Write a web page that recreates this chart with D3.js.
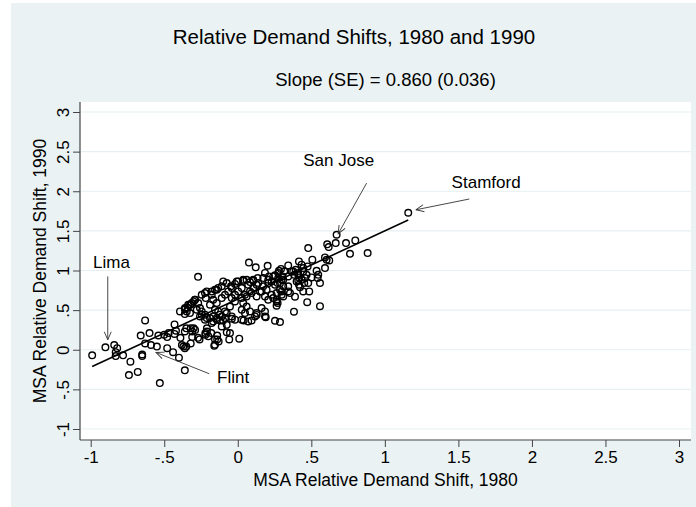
<!DOCTYPE html>
<meta charset="utf-8">
<style>
body { margin: 0; background: #fff; }
svg { font-family: Arial, "Liberation Sans", sans-serif; display: block; }
.dot { fill: none; stroke: #000; stroke-width: 1.4px; }
.grid { stroke: #e6eff1; stroke-width: 1.2px; }
.frame { stroke: #444; stroke-width: 1.2px; }
.fit { stroke: #000; stroke-width: 1.6px; }
.arrow { stroke: #333; stroke-width: 0.9px; fill: none; }
</style>
<svg width="696" height="507"></svg>
<script src="https://d3js.org/d3.v7.min.js"></script>
<script>

// MSA relative demand shifts
var shift1980 = [
  -0.99,-0.90,-0.84,-0.82,-0.83,-0.83,-0.78,-0.73,-0.74,-0.68,-0.53,-0.65,-0.65,-0.63,-0.66,-0.60,-0.63,-0.59,-0.55,-0.48,
  -0.44,-0.40,-0.36,-0.54,-0.50,-0.48,-0.47,-0.43,-0.42,-0.43,-0.36,-0.35,-0.36,-0.36,-0.34,-0.32,-0.30,-0.38,-0.36,-0.37,
  -0.32,-0.31,-0.32,-0.39,-0.27,-0.26,-0.35,
  -0.22,-0.21,-0.155,-0.16,-0.14,-0.075,-0.058,0.01,-0.04,-0.10,0.094,0.128,0.19,0.287,0.382,0.472,0.559,0.389,0.04,-0.12,
  -0.087,-0.223,-0.189,-0.167,-0.30,-0.31,-0.29,-0.21,-0.22,-0.20,-0.18,-0.053,-0.14,-0.155,-0.13,
  -0.27,0.076,0.122,0.203,0.294,0.316,0.185,0.212,0.253,0.275,0.135,0.105,0.083,0.06,0.037,0.003,-0.019,-0.046,-0.099,-0.133,
  -0.155,-0.177,-0.223,-0.218,-0.291,-0.313,-0.337,-0.269,-0.347,-0.325,-0.257,-0.245,-0.223,-0.257,-0.167,-0.143,-0.109,-0.087,-0.065,-0.041,
  -0.019,0.003,0.027,0.049,0.083,0.105,0.128,0.151,0.173,0.207,0.23,0.253,0.287,0.185,0.207,0.241,0.264,0.298,0.037,0.06,
  0.027,0.049,0.083,0.128,0.185,0.185,0.162,-0.133,-0.109,-0.075,-0.041,-0.019,-0.167,-0.143,0.027,0.071,0.117,0.253,
  0.593,0.507,0.416,0.434,0.445,0.475,0.343,0.28,0.394,0.411,0.384,0.366,0.536,0.547,0.543,0.593,0.468,0.457,0.502,0.416,
  0.434,0.40,0.416,0.452,0.479,0.559,0.298,0.271,0.309,0.287,0.445,0.343,0.264,0.271,0.264,0.479,0.608,0.672,0.736,0.799,
  0.763,0.883,0.618,0.666,0.604,0.622,0.486,0.355,0.298,0.423,0.411,1.159,0.305,
  -0.393,-0.359,-0.325,-0.291,-0.245,-0.211,-0.177,-0.143,-0.109,-0.075,-0.041,-0.007,0.037,0.071,0.105,0.139,0.173,0.207,0.241,0.275,
  0.309,0.343,0.377,0.411,0.445,-0.189,-0.155,-0.121,-0.087,-0.053,-0.019,0.027,0.06,0.094,0.128,0.162,0.196,0.23,0.264,0.309,
  0.343,-0.279,-0.245,-0.211,-0.177,-0.143,-0.109,-0.075
];
var shift1990 = [
  -0.07,0.03,0.06,0.02,-0.03,-0.08,-0.07,-0.15,-0.32,-0.28,-0.42,-0.08,-0.06,0.08,0.18,0.21,0.37,0.06,0.04,0.02,
  -0.03,-0.10,-0.26,0.18,0.19,0.16,0.21,0.20,0.24,0.32,0.23,0.27,0.45,0.51,0.53,0.57,0.61,0.06,0.02,0.04,
  0.08,0.16,0.27,0.15,0.15,0.13,0.04,
  0.21,0.27,0.13,0.05,0.18,0.22,0.13,0.14,0.39,0.37,0.37,0.44,0.41,0.35,0.48,0.60,0.55,0.67,0.37,0.37,
  0.40,0.38,0.40,0.42,0.27,0.23,0.25,0.23,0.19,0.17,0.21,0.21,0.13,0.063,0.105,
  0.92,1.10,1.04,1.06,1.02,0.99,0.97,0.925,0.94,0.905,0.905,0.87,0.854,0.883,0.87,0.862,0.83,0.80,0.862,0.78,
  0.757,0.736,0.715,0.652,0.631,0.589,0.568,0.589,0.483,0.463,0.526,0.483,0.442,0.42,0.631,0.589,0.652,0.694,0.736,0.652,
  0.694,0.736,0.778,0.694,0.736,0.778,0.82,0.736,0.80,0.84,0.862,0.82,0.84,0.673,0.631,0.652,0.609,0.694,0.589,0.546,
  0.505,0.463,0.483,0.463,0.483,0.42,0.526,0.483,0.42,0.463,0.42,0.379,0.357,0.40,0.379,0.357,0.42,0.366,
  1.165,1.136,1.114,1.073,1.031,1.051,1.064,0.997,1.009,0.967,0.946,0.988,0.997,0.946,0.905,1.031,0.946,0.905,0.912,0.912,
  0.883,0.862,0.82,0.842,0.842,0.842,0.883,0.842,0.80,0.757,0.736,0.80,0.631,0.589,0.555,1.283,1.33,1.451,1.346,1.379,
  1.211,1.22,1.296,1.346,1.136,1.127,0.736,0.715,0.736,0.79,0.875,1.729,0.925,
  0.483,0.526,0.568,0.631,0.694,0.736,0.694,0.757,0.80,0.842,0.778,0.862,0.883,0.82,0.883,0.842,0.905,0.883,0.925,0.967,
  0.883,0.925,0.988,0.946,0.988,0.568,0.505,0.442,0.483,0.546,0.609,0.652,0.673,0.715,0.673,0.736,0.757,0.694,0.715,0.673,
  0.736,0.505,0.442,0.40,0.337,0.379,0.294,0.315
];

var xTicks = [-1, -0.5, 0, 0.5, 1, 1.5, 2, 2.5, 3];
var xTickLabels = ["-1", "-.5", "0", ".5", "1", "1.5", "2", "2.5", "3"];
var yTicks = [-1, -0.5, 0, 0.5, 1, 1.5, 2, 2.5, 3];
var yTickLabels = ["-1", "-.5", "0", ".5", "1", "1.5", "2", "2.5", "3"];

// fitted line: slope 0.860 (SE 0.036)
var fitSlope = 0.860, fitIntercept = 0.64;

// labelled MSAs: text anchor and arrow (from, to) in data units
var callouts = [
  {name: "Lima",     tx: -0.984, ty: 1.035,  x0: -0.884, y0: 0.925,  x1: -0.884, y1: 0.126},
  {name: "Flint",    tx: -0.141, ty: -0.416, x0: -0.194, y0: -0.303, x1: -0.556, y1: -0.034},
  {name: "San Jose", tx: 0.445,  ty: 2.313,  x0: 0.876,  y0: 2.103,  x1: 0.683,  y1: 1.464},
  {name: "Stamford", tx: 1.454,  ty: 2.04,   x0: 1.574,  y0: 1.902,  x1: 1.211,  y1: 1.766}
];

var svg = d3.select("svg"),
    width = +svg.attr("width"),
    height = +svg.attr("height");

var plot = {left: 80, right: 691, top: 102, bottom: 440};

var x = d3.scaleLinear().domain([-1, 3]).range([90.7, 679]);
var y = d3.scaleLinear().domain([-1, 3]).range([429, 112]);

// background
svg.append("rect").attr("x", 11).attr("y", 3).attr("width", width - 11).attr("height", height - 3)
    .attr("fill", "#eaf2f3");
svg.append("rect").attr("x", plot.left).attr("y", plot.top)
    .attr("width", plot.right - plot.left).attr("height", plot.bottom - plot.top)
    .attr("fill", "#fff");

// horizontal grid
svg.append("g").selectAll("line").data(yTicks).enter().append("line")
    .attr("class", "grid")
    .attr("x1", plot.left + 1).attr("x2", plot.right)
    .attr("y1", function(d) { return y(d); }).attr("y2", function(d) { return y(d); });

// axes
var xAxis = svg.append("g").attr("transform", "translate(0," + plot.bottom + ")")
    .call(d3.axisBottom(x).tickValues(xTicks)
      .tickFormat(function(d, i) { return xTickLabels[i]; })
      .tickSize(7).tickPadding(4));
xAxis.select(".domain").remove();
xAxis.selectAll("line").attr("stroke", "#444");
xAxis.selectAll("text").attr("font-size", 17).attr("fill", "#000")
    .attr("font-family", "Arial, 'Liberation Sans', sans-serif");

var yAxis = svg.append("g").attr("transform", "translate(" + plot.left + ",0)")
    .call(d3.axisLeft(y).tickValues(yTicks)
      .tickFormat(function(d, i) { return yTickLabels[i]; })
      .tickSize(7));
yAxis.select(".domain").remove();
yAxis.selectAll("line").attr("stroke", "#444");
yAxis.selectAll("text")
    .attr("font-size", 17).attr("fill", "#000")
    .attr("font-family", "Arial, 'Liberation Sans', sans-serif")
    .attr("transform", "rotate(-90)")
    .attr("x", 0).attr("y", -11).attr("dy", 0)
    .attr("text-anchor", "middle");

svg.append("line").attr("class", "frame")
    .attr("x1", plot.left).attr("x2", plot.left).attr("y1", plot.top).attr("y2", plot.bottom);
svg.append("line").attr("class", "frame")
    .attr("x1", plot.left).attr("x2", plot.right).attr("y1", plot.bottom).attr("y2", plot.bottom);

// fitted line over the range of the data
var xMin = d3.min(shift1980), xMax = d3.max(shift1980);
svg.append("line").attr("class", "fit")
    .attr("x1", x(xMin)).attr("y1", y(fitIntercept + fitSlope * xMin))
    .attr("x2", x(xMax)).attr("y2", y(fitIntercept + fitSlope * xMax));

// points
svg.append("g").selectAll("circle").data(shift1980).enter().append("circle")
    .attr("class", "dot")
    .attr("r", 3.3)
    .attr("cx", function(d) { return x(d); })
    .attr("cy", function(d, i) { return y(shift1990[i]); });

// callouts
svg.append("defs").append("marker")
    .attr("id", "head").attr("markerUnits", "userSpaceOnUse")
    .attr("markerWidth", 12).attr("markerHeight", 12)
    .attr("refX", 9).attr("refY", 6).attr("orient", "auto")
  .append("path").attr("d", "M1,2.5 L9,6 L1,9.5")
    .attr("fill", "none").attr("stroke", "#333").attr("stroke-width", 0.9);

var co = svg.append("g").selectAll("g").data(callouts).enter().append("g");
co.append("line").attr("class", "arrow")
    .attr("x1", function(d) { return x(d.x0); }).attr("y1", function(d) { return y(d.y0); })
    .attr("x2", function(d) { return x(d.x1); }).attr("y2", function(d) { return y(d.y1); })
    .attr("marker-end", "url(#head)");
co.append("text")
    .attr("x", function(d) { return x(d.tx); }).attr("y", function(d) { return y(d.ty); })
    .attr("font-size", 17)
    .text(function(d) { return d.name; });

// titles
svg.append("text").attr("x", 354).attr("y", 44).attr("text-anchor", "middle")
    .attr("font-size", 20.5).text("Relative Demand Shifts, 1980 and 1990");
svg.append("text").attr("x", (plot.left + plot.right) / 2).attr("y", 86).attr("text-anchor", "middle")
    .attr("font-size", 18.5).text("Slope (SE) = 0.860 (0.036)");
svg.append("text").attr("x", (plot.left + plot.right) / 2).attr("y", 486).attr("text-anchor", "middle")
    .attr("font-size", 17.5).text("MSA Relative Demand Shift, 1980");
svg.append("text")
    .attr("transform", "translate(46," + (plot.top + plot.bottom) / 2 + ") rotate(-90)")
    .attr("text-anchor", "middle")
    .attr("font-size", 17.5).text("MSA Relative Demand Shift, 1990");

</script>
